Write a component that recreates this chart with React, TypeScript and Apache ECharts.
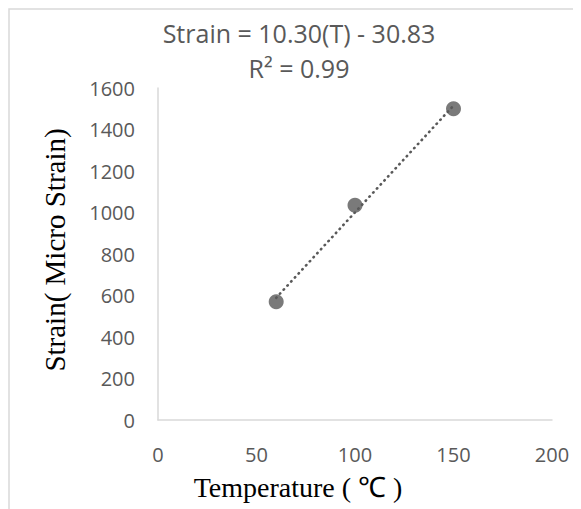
import React, { useEffect, useRef } from "react";
import * as echarts from "echarts";

const temperatures = [60, 100, 150];
const strains = [570, 1035, 1500];
const xTicks = [0, 50, 100, 150, 200];
const yTicks = [0, 200, 400, 600, 800, 1000, 1200, 1400, 1600];
const equationText = "Strain = 10.30(T) - 30.83";
const r2Text = "R² = 0.99";
const xTitle = "Temperature ( \u2103 )";
const yTitle = "Strain( Micro Strain)";

function fitLine(xs: number[], ys: number[]) {
  const n = xs.length;
  const mx = xs.reduce((a, b) => a + b, 0) / n;
  const my = ys.reduce((a, b) => a + b, 0) / n;
  let sxy = 0;
  let sxx = 0;
  for (let i = 0; i < n; i++) {
    sxy += (xs[i] - mx) * (ys[i] - my);
    sxx += (xs[i] - mx) * (xs[i] - mx);
  }
  const slope = sxy / sxx;
  const intercept = my - slope * mx;
  return { slope, intercept };
}

export default function App() {
  const ref = useRef<HTMLDivElement>(null);
  useEffect(() => {
    if (!ref.current) return;
    const chart = echarts.init(ref.current, null, { renderer: "svg" });
    const { slope, intercept } = fitLine(temperatures, strains);
    const xMin = Math.min(...temperatures);
    const xMax = Math.max(...temperatures);
    const trend = [
      [xMin, slope * xMin + intercept],
      [xMax, slope * xMax + intercept],
    ];
    const sansFont = "'Open Sans', 'Noto Sans', sans-serif";
    const serifFont = "'Liberation Serif', 'Times New Roman', serif";
    chart.setOption({
      animation: false,
      backgroundColor: "#ffffff",
      grid: { left: 150, top: 80, width: 394, height: 332, containLabel: false },
      xAxis: {
        type: "value",
        min: xTicks[0],
        max: xTicks[xTicks.length - 1],
        interval: xTicks[1] - xTicks[0],
        axisLine: { show: true, lineStyle: { color: "#d9d9d9", width: 1.5 } },
        axisTick: { show: false },
        splitLine: { show: false },
        axisLabel: {
          color: "#595959",
          fontSize: 20,
          fontFamily: sansFont,
          margin: 24,
          formatter: (v: number) => String(v),
        },
      },
      yAxis: {
        type: "value",
        min: yTicks[0],
        max: yTicks[yTicks.length - 1],
        interval: yTicks[1] - yTicks[0],
        axisLine: { show: true, lineStyle: { color: "#d9d9d9", width: 1.5 } },
        axisTick: { show: false },
        splitLine: { show: false },
        axisLabel: {
          color: "#595959",
          fontSize: 20,
          fontFamily: sansFont,
          margin: 23,
          formatter: (v: number) => String(v),
        },
      },
      graphic: [
        {
          type: "rect",
          shape: { x: 1, y: 1, width: 800, height: 800 },
          style: { fill: "none", stroke: "#d9d9d9", lineWidth: 1.5 },
          silent: true,
          z: -1,
        },
        {
          type: "text",
          x: 291,
          y: 25,
          style: {
            text: equationText,
            fill: "#595959",
            font: `25px ${sansFont}`,
            align: "center",
            verticalAlign: "middle",
          },
        },
        {
          type: "text",
          x: 291,
          y: 60,
          style: {
            text: r2Text,
            fill: "#595959",
            font: `25px ${sansFont}`,
            align: "center",
            verticalAlign: "middle",
          },
        },
        {
          type: "text",
          x: 290,
          y: 479,
          style: {
            text: xTitle,
            fill: "#000000",
            font: `28px ${serifFont}`,
            align: "center",
            verticalAlign: "middle",
          },
        },
        {
          type: "text",
          x: 47,
          y: 242,
          rotation: Math.PI / 2,
          style: {
            text: yTitle,
            fill: "#000000",
            font: `29px ${serifFont}`,
            align: "center",
            verticalAlign: "middle",
          },
        },
      ],
      series: [
        {
          type: "line",
          data: trend,
          symbol: "none",
          lineStyle: { color: "#595959", width: 2.6, type: [0.5, 5], cap: "round" },
          z: 1,
        },
        {
          type: "scatter",
          data: temperatures.map((t, i) => [t, strains[i]]),
          symbolSize: 15,
          itemStyle: { color: "#595959" },
          z: 2,
        },
      ],
    });
    return () => chart.dispose();
  }, []);
  return <div ref={ref} style={{ width: 573, height: 501 }} />;
}
